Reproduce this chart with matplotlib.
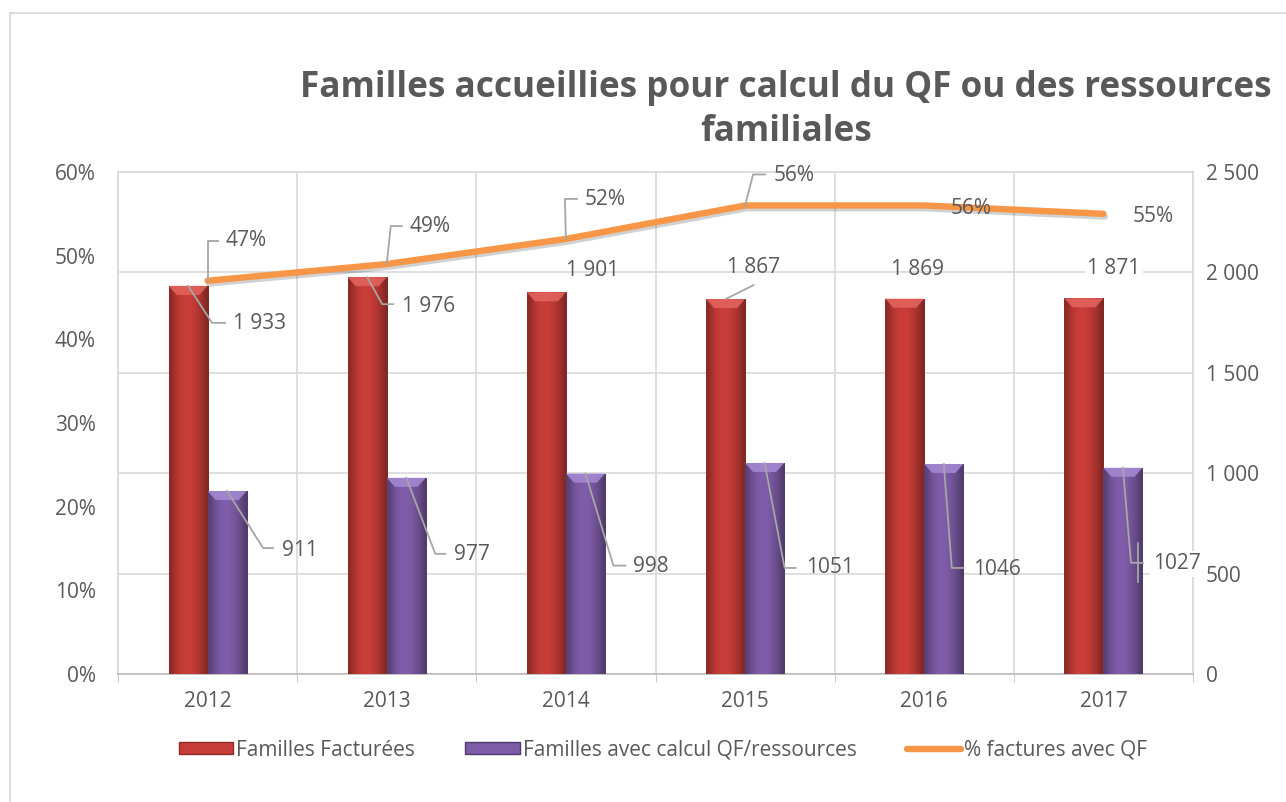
import matplotlib

matplotlib.use("Agg")
import matplotlib.pyplot as plt  # noqa: E402
import numpy as np  # noqa: E402
from matplotlib import patheffects as pe  # noqa: E402
from matplotlib.colors import to_rgb  # noqa: E402
from matplotlib.lines import Line2D  # noqa: E402
from matplotlib.patches import Patch, Polygon, Rectangle  # noqa: E402
from matplotlib.transforms import IdentityTransform  # noqa: E402

# --- data ---
years = ["2012", "2013", "2014", "2015", "2016", "2017"]
facturees = [1933, 1976, 1901, 1867, 1869, 1871]
avec_qf = [911, 977, 998, 1051, 1046, 1027]
pct_qf = [47, 49, 52, 56, 56, 55]

title = "Familles accueillies pour calcul du QF ou des ressources\nfamiliales"
legend_labels = ["Familles Facturées", "Familles avec calcul QF/ressources", "% factures avec QF"]

# label placement, pixels from the anchor point (y down): text (dx, dy), leader elbow, stub end
pct_lab = [((18, -40), (0, -40), (10, -40)),
           ((23, -38), (4, -38), (15, -38)),
           ((19, -39), (-1, -40), (11, -40)),
           ((29, -30), (8, -31), (20, -31)),
           ((47, 3), None, None),
           ((50, 3), None, None)]
fact_lab = [((45, 38), (24, 37), (37, 37)),
            ((35, 29), (15, 27), (26, 27)),
            ((46, -22), None, None),
            ((28, -32), (28, -14), None),
            ((13, -29), None, None),
            ((30, -30), None, None)]
qf_lab = [((55, 59), (36, 57), (46, 57)),
          ((48, 77), (29, 76), (39, 76)),
          ((48, 93), (28, 92), (40, 92)),
          ((41, 105), (20, 105), (31, 105)),
          ((29, 106), (8, 104), (20, 104)),
          ((30, 96), (8, 95), (20, 95))]

GREY = "#595959"
GRID = "#d9d9d9"
LEAD = "#a6a6a6"
RED = "#c63c37"
PURPLE = "#7d5ba6"
ORANGE = "#f79646"
PX = 0.72  # points per pixel at dpi 100

plt.rcParams["font.family"] = ["Open Sans", "DejaVu Sans"]
plt.rcParams["font.size"] = 15

W, H = 1286, 802
fig = plt.figure(figsize=(W / 100, H / 100), dpi=100)
fig.add_artist(Rectangle((10 / W, -0.1), 1.2, (H - 13) / H + 0.1, transform=fig.transFigure,
                         fill=False, ec=GRID, lw=1.3))
ax = fig.add_axes([118 / W, 128 / H, 1075 / W, 502 / H])
x = np.arange(len(years))
bw = 0.218

b1 = ax.bar(x - bw / 2, facturees, bw, color=RED, ec="#8e2a27", lw=0.6, zorder=3)
b2 = ax.bar(x + bw / 2, avec_qf, bw, color=PURPLE, ec="#4f3a6e", lw=0.6, zorder=3)


def shade(bars, base, top):
    rgb = np.array(to_rgb(base))
    prof = np.array([0.72, 0.86, 0.97, 1.02, 1.02, 0.98, 0.9, 0.8, 0.66])
    img = np.clip(np.ones((2, 1, 1)) * prof[None, :, None] * rgb, 0, 1)
    dy = 9 * 2500 / 502  # bevel depth, ~9 px
    dx = 0.045
    for p in bars:
        x0, y0 = p.get_x(), p.get_y()
        w, h = p.get_width(), p.get_height()
        im = ax.imshow(img, extent=[x0, x0 + w, y0, y0 + h],
                       aspect="auto", interpolation="bilinear", zorder=3.5)
        im.set_clip_path(p)
        ax.add_patch(Polygon([(x0, y0 + h), (x0 + w, y0 + h), (x0 + w - dx, y0 + h - dy),
                              (x0 + dx, y0 + h - dy)], closed=True, fc=top, ec="none",
                             alpha=0.9, zorder=3.6))


shade(b1, RED, "#e2625c")
shade(b2, PURPLE, "#a487d2")

ax.set_xlim(-0.5, len(years) - 0.5)
ax.set_ylim(0, 2500)
ax.set_xticks(x)
ax.set_xticklabels(years)
ax.set_xticks(np.arange(-0.5, len(years), 1), minor=True)
ax.tick_params(axis="x", which="major", length=0, pad=12, colors=GREY)
ax.tick_params(axis="x", which="minor", length=6, color="#bfbfbf")
ax.grid(axis="y", color=GRID, lw=1.2, zorder=0)
ax.grid(axis="x", which="minor", color=GRID, lw=1.2, zorder=0)
for s in ["top", "left", "right"]:
    ax.spines[s].set_color(GRID)
    ax.spines[s].set_linewidth(1.2)
ax.spines["bottom"].set_color("#bfbfbf")
ax.spines["bottom"].set_linewidth(1.3)

ax2 = ax.twinx()
ax2.plot(x, pct_qf, color=ORANGE, lw=4.6, solid_capstyle="round", zorder=5,
         path_effects=[pe.SimpleLineShadow(offset=(1, -2), alpha=0.18), pe.Normal()])
ax2.set_ylim(0, 60)
ax2.set_yticks(range(0, 61, 10))
ax2.set_yticklabels([f"{v}%" for v in range(0, 61, 10)])
ax2.yaxis.tick_left()
ax2.tick_params(axis="y", length=0, pad=16, colors=GREY)
for s in ax2.spines.values():
    s.set_visible(False)

# twinx moves the first axis ticks to the left: put the counts back on the right
ax.yaxis.tick_right()
ax.set_yticks(range(0, 2501, 500))
ax.set_yticklabels([f"{v:,}".replace(",", " ") for v in range(0, 2501, 500)])
ax.tick_params(axis="y", length=0, pad=9, colors=GREY)


def labels(axis, xs, ys, texts, spec, box=None):
    for xi, yi, t, (tp, elbow, stub) in zip(xs, ys, texts, spec):
        kw = {}
        if box is not None and t == box:
            kw["bbox"] = dict(fc="white", ec="none", pad=2)
        ha = "left" if elbow is not None and stub is not None else "center"
        axis.annotate(t, (xi, yi), xytext=(tp[0] * PX, -tp[1] * PX), textcoords="offset points",
                      ha=ha, va="center", color=GREY, fontsize=15, zorder=6, **kw)
        if elbow is None:
            continue
        px, py = axis.transData.transform((xi, yi))
        pts = [(0, 0), elbow] + ([stub] if stub is not None else [])
        fig.add_artist(Line2D([px + p[0] for p in pts], [py - p[1] for p in pts],
                              transform=IdentityTransform(), color=LEAD, lw=1.3, zorder=6))


labels(ax2, x, pct_qf, [f"{v}%" for v in pct_qf], pct_lab)
labels(ax, x - bw / 2, facturees, [f"{v:,}".replace(",", " ") for v in facturees], fact_lab,
       box="1 871")
labels(ax, x + bw / 2, avec_qf, [str(v) for v in avec_qf], qf_lab, box="1027")

# stray leader piece next to the last purple label
px, py = ax.transData.transform((x[-1] + bw / 2, avec_qf[-1]))
fig.add_artist(Line2D([px + 15, px + 15], [py - 75, py - 114], transform=IdentityTransform(),
                      color=LEAD, lw=1.3, zorder=6))

fig.text(786 / W, 1 - 110 / H, title, ha="center", va="center", fontsize=25.3,
         fontweight="bold", color=GREY, linespacing=1.3)

handles = [Patch(fc=RED, ec="#8e2a27"), Patch(fc=PURPLE, ec="#4f3a6e"),
           Line2D([], [], color=ORANGE, lw=4.6, solid_capstyle="round")]
fig.legend(handles, legend_labels, loc="center", bbox_to_anchor=(663 / W, 1 - 750 / H),
           ncol=3, frameon=False, fontsize=15, labelcolor=GREY, handlelength=2.6,
           handleheight=0.5, handletextpad=0.15, columnspacing=2.4)

fig.savefig("out.png", dpi=100)
